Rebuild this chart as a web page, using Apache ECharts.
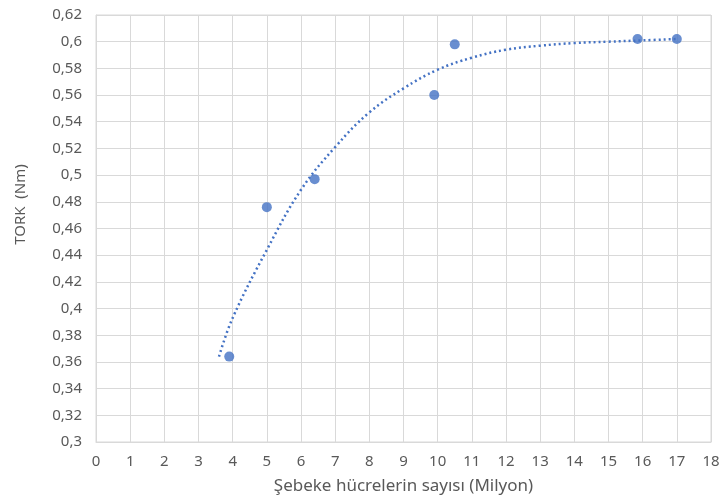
<!DOCTYPE html>
<html>
<head>
<meta charset="utf-8">
<script src="https://cdn.jsdelivr.net/npm/echarts@6/dist/echarts.min.js"></script>
<style>
  html, body { margin: 0; padding: 0; background: #ffffff; }
  #chart { width: 724px; height: 502px; }
</style>
</head>
<body>
<div id="chart"></div>
<script>
// Measured torque against mesh cell count (millions)
const cellCounts = [3.9, 5.0, 6.4, 9.9, 10.5, 15.85, 17.0];
const torqueValues = [0.364, 0.476, 0.497, 0.560, 0.598, 0.602, 0.602];

// Trend curve through the measurements
const trendX = [3.6, 4, 5, 6, 7, 8, 9, 10, 11, 12, 13, 14, 15, 16, 17];
const trendY = [0.364, 0.393, 0.444, 0.489, 0.521, 0.547, 0.565, 0.579, 0.588, 0.594, 0.597, 0.599, 0.600, 0.601, 0.602];

const xTicks = { min: 0, max: 18, step: 1 };
const yTicks = { min: 0.30, max: 0.62, step: 0.02 };

// precomposed Turkish letters (S with cedilla, dotless i)
const xTitle = '\u015Eebeke h\u00FCcrelerin say\u0131s\u0131 (Milyon)';
const yTitle = 'TORK  (Nm)';

const fontFamily = '"Noto Sans", "Open Sans", sans-serif';
const textColor = '#595959';
const gridColor = '#d9d9d9';
const markColor = '#4472C4';

const chart = echarts.init(document.getElementById('chart'), null, { renderer: 'canvas' });

chart.setOption({
  backgroundColor: '#ffffff',
  animation: false,
  grid: { left: 96, right: 13, top: 15, bottom: 60, show: true, borderColor: gridColor, borderWidth: 1 },
  xAxis: {
    type: 'value',
    min: xTicks.min, max: xTicks.max, interval: xTicks.step,
    name: xTitle,
    nameLocation: 'middle', nameGap: 36,
    nameTextStyle: { color: textColor, fontSize: 17, fontFamily: fontFamily },
    axisLine: { show: true, lineStyle: { color: gridColor } },
    axisTick: { show: false },
    axisLabel: { color: textColor, fontSize: 15, fontFamily: fontFamily, margin: 12 },
    splitLine: { show: true, lineStyle: { color: gridColor, width: 1 } }
  },
  yAxis: {
    type: 'value',
    min: yTicks.min, max: yTicks.max, interval: yTicks.step,
    name: yTitle,
    nameLocation: 'middle', nameGap: 68, nameRotate: 90,
    nameTextStyle: { color: textColor, fontSize: 15, fontFamily: fontFamily, padding: [0, 0, 0, 48] },
    axisLine: { show: true, lineStyle: { color: gridColor } },
    axisTick: { show: false },
    axisLabel: {
      color: textColor, fontSize: 15, fontFamily: fontFamily, margin: 14,
      formatter: v => String(Number(v.toFixed(2))).replace('.', ',')
    },
    splitLine: { show: true, lineStyle: { color: gridColor, width: 1 } }
  },
  series: [
    {
      name: 'Trend',
      type: 'line',
      data: trendX.map((x, i) => [x, trendY[i]]),
      smooth: 0.4,
      showSymbol: false,
      symbol: 'none',
      lineStyle: { color: markColor, width: 2.5, type: [2, 3] },
      z: 2
    },
    {
      name: 'TORK',
      type: 'scatter',
      data: cellCounts.map((x, i) => [x, torqueValues[i]]),
      symbol: 'circle',
      symbolSize: 10,
      itemStyle: { color: markColor },
      z: 3
    }
  ]
});
</script>
</body>
</html>
